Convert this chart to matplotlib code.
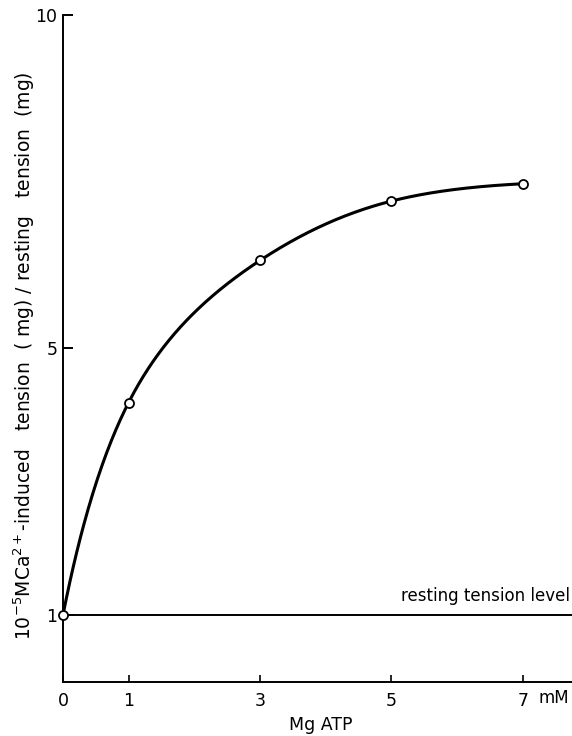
import numpy as np
import matplotlib
matplotlib.use("Agg")
import matplotlib.pyplot as plt

# MgATP concentration (mM) and normalised tension
mgatp = [0, 1, 3, 5, 7]
tension_ratio = [1.0, 4.19, 6.32, 7.21, 7.47]
resting_level = 1.0
x_ticks = [0, 1, 3, 5, 7]
x_tick_labels = ["0", "1", "3", "5", "7"]
y_ticks = [1, 5, 10]
y_tick_labels = ["1", "5", "10"]


def clamped_spline(x, y, xs, s0, sn):
    """Cubic spline through the points with given end slopes."""
    x = np.asarray(x, float)
    y = np.asarray(y, float)
    n = len(x)
    h = np.diff(x)
    A = np.zeros((n, n))
    b = np.zeros(n)
    A[0, 0], A[0, 1] = 2 * h[0], h[0]
    b[0] = 6 * ((y[1] - y[0]) / h[0] - s0)
    A[-1, -2], A[-1, -1] = h[-1], 2 * h[-1]
    b[-1] = 6 * (sn - (y[-1] - y[-2]) / h[-1])
    for i in range(1, n - 1):
        A[i, i - 1] = h[i - 1]
        A[i, i] = 2 * (h[i - 1] + h[i])
        A[i, i + 1] = h[i]
        b[i] = 6 * ((y[i + 1] - y[i]) / h[i] - (y[i] - y[i - 1]) / h[i - 1])
    M = np.linalg.solve(A, b)
    idx = np.clip(np.searchsorted(x, xs) - 1, 0, n - 2)
    hi = h[idx]
    a = x[idx + 1] - xs
    c = xs - x[idx]
    return (M[idx] * a**3 / (6 * hi) + M[idx + 1] * c**3 / (6 * hi)
            + (y[idx] / hi - M[idx] * hi / 6) * a
            + (y[idx + 1] / hi - M[idx + 1] * hi / 6) * c)


plt.rcParams["font.family"] = ["DejaVu Sans"]

fig = plt.figure(figsize=(5.72, 7.36), dpi=100)
ax = fig.add_axes([0.110, 0.0734, 0.890, 0.9062])

# smooth saturating curve: spline on a log(1 + x) axis, drawn back in mM
xs = np.linspace(mgatp[0], mgatp[-1], 400)
u_pts = np.log1p(mgatp)
ys = clamped_spline(u_pts, tension_ratio, np.log1p(xs), 5.0, 0.4)
ax.plot(xs, ys, color="black", lw=2.2, solid_capstyle="round", zorder=3)
ax.plot(mgatp, tension_ratio, linestyle="none", marker="o", ms=6.5,
        mfc="white", mec="black", mew=1.3, zorder=4, clip_on=False)

ax.axhline(resting_level, color="black", lw=1.4, zorder=2)
ax.text(7.72, resting_level + 0.16, "resting tension level",
        ha="right", va="bottom", fontsize=12)

ax.set_xlim(0, 7.75)
ax.set_ylim(0, 10)
ax.spines["top"].set_visible(False)
ax.spines["right"].set_visible(False)
for s in ("left", "bottom"):
    ax.spines[s].set_linewidth(1.4)

ax.set_xticks(x_ticks)
ax.set_xticklabels(x_tick_labels)
ax.set_yticks(y_ticks)
ax.set_yticklabels(y_tick_labels)
ax.tick_params(axis="x", direction="in", length=5, width=1.2, pad=7,
               labelsize=12.5)
ax.tick_params(axis="y", direction="in", length=7, width=1.4, pad=4,
               labelsize=12.5)

ax.text(7.47, -0.24, "mM", ha="center", va="center", fontsize=12)

ax.set_xlabel("Mg ATP", fontsize=12.5)
ax.xaxis.set_label_coords(3.93 / 7.75, -0.051)
ax.set_ylabel(r"10$^{-5}$MCa$^{2+}$-induced   tension  ( mg) / resting   tension  (mg)",
              fontsize=13.5)
ax.yaxis.set_label_coords(-0.051, 0.489)

fig.savefig("out.png", dpi=100)
